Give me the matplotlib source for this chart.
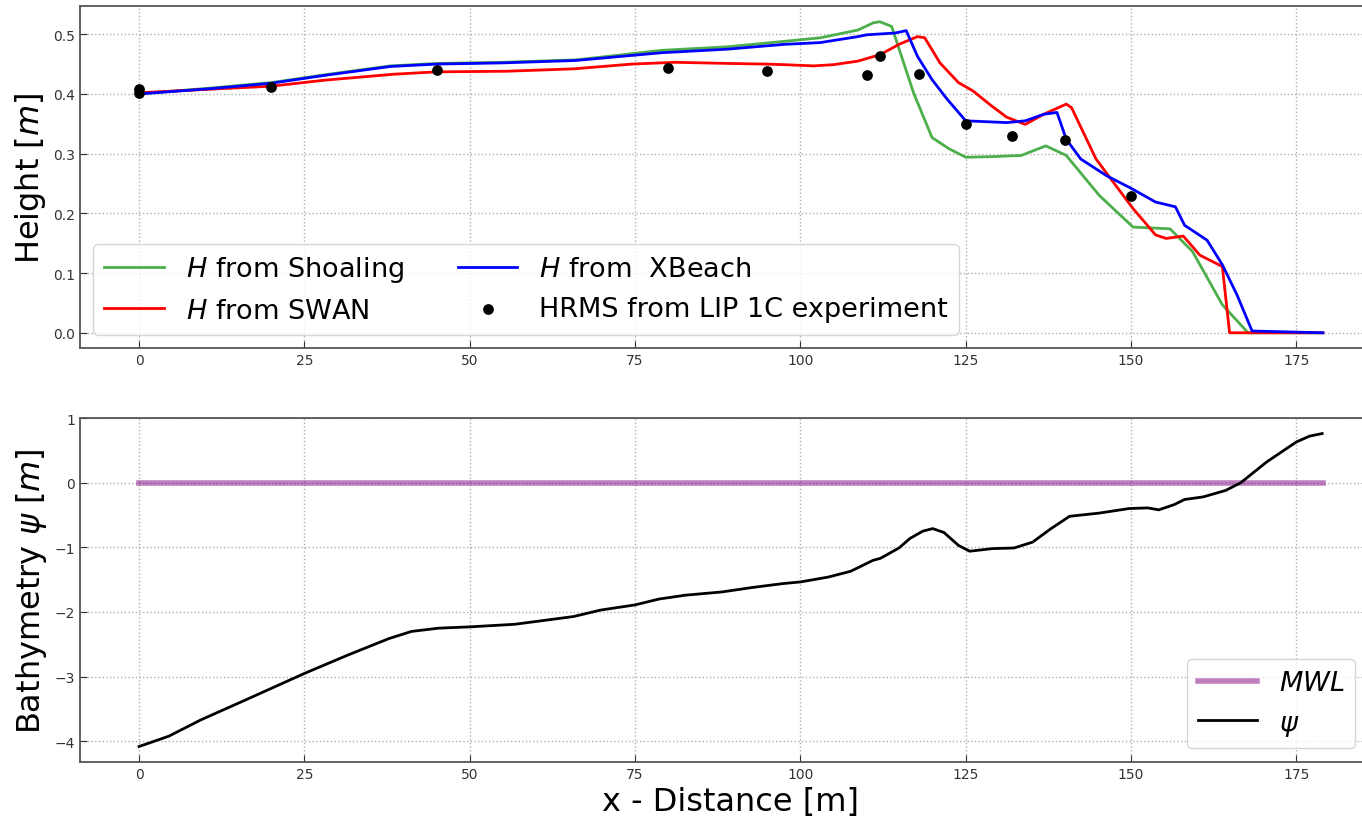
import matplotlib
matplotlib.use("Agg")
import matplotlib.pyplot as plt

# wave height along the profile
x_shoal = [0, 11, 20, 28, 38, 45, 55, 66, 75, 79, 89, 97.5, 103, 108.7, 111, 112, 113.8,
           117.1, 119.9, 122.5, 125, 129, 133.4, 137.1, 140.2, 145.2, 150.3, 154.2, 155.9,
           159.3, 163.8, 167.7, 179]
h_shoal = [0.400, 0.410, 0.419, 0.432, 0.447, 0.451, 0.453, 0.457, 0.468, 0.473, 0.479, 0.488,
           0.494, 0.507, 0.519, 0.521, 0.513, 0.402, 0.327, 0.308, 0.294, 0.295, 0.297, 0.313,
           0.297, 0.230, 0.177, 0.175, 0.174, 0.136, 0.047, 0.0, 0.0]

x_swan = [0, 20, 28, 38.5, 45, 55.5, 65.7, 74.5, 81, 89.4, 94.8, 97.5, 102, 105, 108.7, 112.1,
          114.9, 117.7, 118.8, 121.1, 123.9, 126.1, 128.9, 131.2, 134, 136.8, 140.2, 141,
          144.7, 150.3, 153.7, 155.3, 157.9, 160.4, 163.8, 164.9, 179]
h_swan = [0.402, 0.413, 0.423, 0.433, 0.437, 0.438, 0.442, 0.450, 0.453, 0.451, 0.450, 0.449,
          0.447, 0.449, 0.455, 0.466, 0.483, 0.496, 0.494, 0.452, 0.419, 0.405, 0.380, 0.361,
          0.349, 0.366, 0.383, 0.377, 0.291, 0.208, 0.164, 0.158, 0.162, 0.130, 0.111, 0.0, 0.0]

x_xbeach = [0, 11, 20, 28, 38, 45, 55, 66, 75, 79, 89, 97.5, 103, 108.7, 110, 114.3, 116,
            117.7, 119.9, 122.2, 125, 131.2, 134, 136.8, 138.8, 140.2, 142.4, 146.3, 150,
            153.7, 156.7, 158.1, 161.5, 163.8, 166, 168.3, 179]
h_xbeach = [0.400, 0.409, 0.418, 0.431, 0.446, 0.450, 0.452, 0.456, 0.465, 0.469, 0.475, 0.483,
            0.486, 0.496, 0.499, 0.502, 0.506, 0.463, 0.424, 0.391, 0.355, 0.352, 0.355, 0.366,
            0.369, 0.324, 0.291, 0.263, 0.242, 0.219, 0.211, 0.180, 0.155, 0.114, 0.064, 0.003, 0.0]

# LIP 1C measurements
x_lip = [0, 0, 20, 45, 80, 95, 110, 112, 118, 125, 132, 140, 150]
h_lip = [0.408, 0.401, 0.412, 0.440, 0.444, 0.439, 0.431, 0.463, 0.433, 0.349, 0.330, 0.323, 0.229]

# bathymetry
x_bed = [0, 4.5, 9.3, 16.1, 25, 31.7, 37.8, 41.2, 45.3, 50, 56.8, 65.7, 69.8, 75, 78.6, 82.6,
         88.1, 92.8, 97.4, 100, 104.2, 107.6, 111, 112.1, 114.9, 116.6, 118.5, 120, 121.7,
         123.9, 125.6, 129, 132.3, 135.1, 137.9, 140.7, 145.2, 149.7, 152.5, 154.2, 156.5,
         158.1, 160.9, 164.3, 166.6, 170.5, 175, 177, 178.9]
psi = [-4.08, -3.92, -3.67, -3.36, -2.95, -2.66, -2.41, -2.30, -2.25, -2.23, -2.19, -2.07, -1.97,
       -1.89, -1.80, -1.74, -1.69, -1.62, -1.56, -1.535, -1.46, -1.37, -1.20, -1.17, -1.01, -0.86,
       -0.75, -0.71, -0.77, -0.97, -1.06, -1.02, -1.01, -0.92, -0.71, -0.52, -0.47, -0.40, -0.39,
       -0.42, -0.34, -0.26, -0.22, -0.12, 0.0, 0.32, 0.63, 0.72, 0.76]

x_mwl = [0, 179]
mwl = [0, 0]


def style_axes(ax):
    ax.grid(True, linestyle=":", color="#b0b0b0", linewidth=1.0)
    ax.tick_params(direction="in", labelsize=10, colors="#333333", length=5)
    for s in ax.spines.values():
        s.set_color("#555555")
        s.set_linewidth(1.3)


fig = plt.figure(figsize=(13.62, 8.2), dpi=100)
ax1 = fig.add_axes([0.0587, 0.574, 0.956, 0.418])
ax2 = fig.add_axes([0.0587, 0.0695, 0.956, 0.4195])

ax1.plot(x_shoal, h_shoal, color="#4caf4c", lw=2, label="$H$ from Shoaling")
ax1.plot(x_swan, h_swan, color="red", lw=2, label="$H$ from SWAN")
ax1.plot(x_xbeach, h_xbeach, color="blue", lw=2, label="$H$ from  XBeach")
ax1.scatter(x_lip, h_lip, color="black", s=45, zorder=5, label="HRMS from LIP 1C experiment")
ax1.set_xlim(-8.95, 187.95)
ax1.set_ylim(-0.026, 0.548)
ax1.set_ylabel("Height [$m$]", fontsize=23)
ax1.legend(loc="lower left", ncol=2, fontsize=19.5, scatterpoints=1, columnspacing=2.0,
           handlelength=2.2, borderaxespad=0.5)
style_axes(ax1)

ax2.plot(x_mwl, mwl, color="purple", alpha=0.5, lw=4, label="$MWL$")
ax2.plot(x_bed, psi, color="black", lw=2, label=r"$\psi$")
ax2.set_xlim(-8.95, 187.95)
ax2.set_ylim(-4.32, 1.0)
ax2.set_ylabel(r"Bathymetry $\psi$ [$m$]", fontsize=23)
ax2.set_xlabel("x - Distance [m]", fontsize=23, labelpad=4)
ax2.legend(loc="lower right", fontsize=19.5, bbox_to_anchor=(0.99, 0.0), borderaxespad=0.5,
           handlelength=2.2)
style_axes(ax2)

fig.savefig("out.png", dpi=100)
